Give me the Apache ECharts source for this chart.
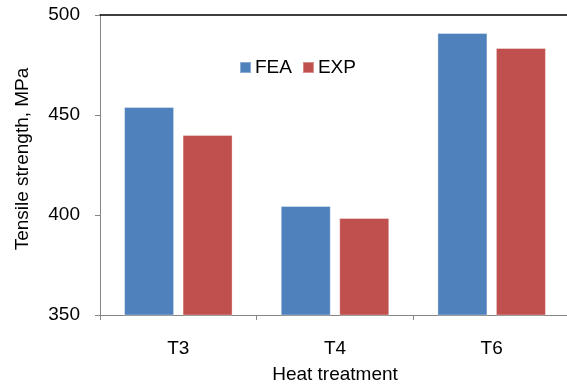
<!DOCTYPE html>
<html>
<head>
<meta charset="utf-8">
<script src="https://cdn.jsdelivr.net/npm/echarts@6/dist/echarts.min.js"></script>
<style>
html,body{margin:0;padding:0;background:#fff;}
#chart{width:567px;height:385px;}
</style>
</head>
<body>
<div id="chart"></div>
<script>
const categories = ['T3', 'T4', 'T6'];
const feaValues = [454, 404.5, 491];
const expValues = [440, 398.5, 483.5];
const yTicks = [350, 400, 450, 500];

const FONT = "'Liberation Sans', Arial, sans-serif";
const chart = echarts.init(document.getElementById('chart'), null, {renderer: 'canvas'});
chart.setOption({
  animation: false,
  backgroundColor: '#ffffff',
  textStyle: {fontFamily: FONT},
  grid: {left: 100, top: 15, width: 470, height: 300, containLabel: false, outerBoundsMode: 'none'},
  legend: {
    left: 239, top: 58, padding: 0,
    itemWidth: 11, itemHeight: 11, itemGap: 10,
    icon: 'rect',
    textStyle: {fontFamily: FONT, fontSize: 19, color: '#000', padding: [0, 0, 0, -1]},
    data: ['FEA', 'EXP']
  },
  xAxis: [{
    type: 'category',
    data: categories,
    position: 'bottom',
    name: 'Heat treatment',
    nameLocation: 'middle',
    nameGap: 50,
    nameTextStyle: {fontFamily: FONT, fontSize: 19, color: '#000'},
    axisLine: {lineStyle: {color: '#868686', width: 1}},
    axisTick: {show: true, length: 5, lineStyle: {color: '#868686'}},
    axisLabel: {fontFamily: FONT, fontSize: 19, color: '#000', margin: 24},
    splitLine: {show: false}
  }, {
    type: 'category',
    data: categories,
    position: 'top',
    axisLine: {show: true, lineStyle: {color: '#000', width: 1.5}},
    axisTick: {show: false},
    axisLabel: {show: false},
    splitLine: {show: false}
  }],
  yAxis: {
    type: 'value',
    min: yTicks[0],
    max: yTicks[yTicks.length - 1],
    interval: 50,
    name: 'Tensile strength, MPa',
    nameLocation: 'middle',
    nameGap: 68,
    nameTextStyle: {fontFamily: FONT, fontSize: 19, color: '#000', padding: [0, 0, 0, 12]},
    axisLine: {show: true, lineStyle: {color: '#868686', width: 1}},
    axisTick: {show: true, length: 5, lineStyle: {color: '#868686'}},
    axisLabel: {fontFamily: FONT, fontSize: 19, color: '#000', margin: 20},
    splitLine: {show: false}
  },
  series: [{
    name: 'FEA',
    type: 'bar',
    data: feaValues,
    barWidth: 50,
    barGap: '17%',
    itemStyle: {color: '#4F81BD', borderColor: 'rgba(255,255,255,0.35)', borderWidth: 1}
  }, {
    name: 'EXP',
    type: 'bar',
    data: expValues,
    barWidth: 50,
    barGap: '17%',
    itemStyle: {color: '#C0504D', borderColor: 'rgba(255,255,255,0.35)', borderWidth: 1}
  }]
});
</script>
</body>
</html>
